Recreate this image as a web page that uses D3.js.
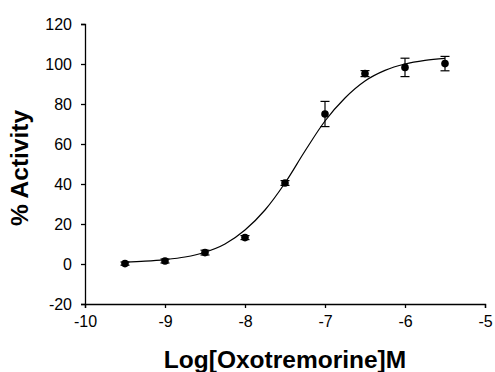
<!DOCTYPE html>
<html>
<head>
<meta charset="utf-8">
<script src="https://cdn.jsdelivr.net/npm/d3@7"></script>
<style>
  body { margin: 0; background: #fff; }
  text { font-family: "Liberation Sans", Arial, sans-serif; }
</style>
</head>
<body>
<div id="chart"></div>
<script>
'use strict';

// measured points (log concentration, mean % activity, error)
var logConc = [-9.5, -9, -8.5, -8, -7.5, -7, -6.5, -6, -5.5];
var activity = [0.2, 1.5, 5.7, 13.2, 40.5, 75, 95.2, 98.3, 100.2];
var errors = [0.8, 1.0, 1.2, 1.0, 1.2, 6.3, 1.5, 4.6, 3.6];

// fitted curve
var curveX = [-9.5, -9.25, -9, -8.75, -8.5, -8.25, -8, -7.75, -7.5, -7.25, -7, -6.75, -6.5, -6.25, -6, -5.75, -5.5];
var curveY = [0.9, 1.4, 2.2, 3.5, 5.9, 10.0, 17.0, 27.0, 40.5, 56.5, 71.5, 83.0, 91.5, 96.8, 100.0, 101.8, 102.8];

var xTicks = [-10, -9, -8, -7, -6, -5];
var yTicks = [-20, 0, 20, 40, 60, 80, 100, 120];

var el_width = 495, el_height = 372;
var margin = {top: 24, right: 10, bottom: 68, left: 85},
  width = 485 - margin.left,
  height = 304 - margin.top;

var svg = d3.select("#chart").append("svg")
  .attr("width", el_width)
  .attr("height", el_height)
  .append("g")
  .attr("transform", "translate(" + margin.left + "," + margin.top + ")");

var x = d3.scaleLinear().domain([-10, -5]).range([0, width]),
  y = d3.scaleLinear().domain([-20, 120]).range([height, 0]);

var xAxis = svg.append("g")
  .attr("transform", "translate(0," + height + ")")
  .call(d3.axisBottom(x).tickValues(xTicks).tickSizeOuter(0).tickSize(4).tickPadding(8).tickFormat(d3.format("d")));

var yAxis = svg.append("g")
  .call(d3.axisLeft(y).tickValues(yTicks).tickSizeOuter(0).tickSize(4).tickPadding(9).tickFormat(d3.format("d")));

[xAxis, yAxis].forEach(function(a){
  a.select(".domain").attr("stroke", "#000").attr("stroke-width", 1.3);
  a.selectAll(".tick line").attr("stroke", "#000").attr("stroke-width", 1.3);
  a.selectAll(".tick text")
    .style("font-family", "Liberation Sans, Arial, sans-serif")
    .style("font-size", "16px")
    .attr("fill", "#000")
    .text(function(d){ return d < 0 ? "-" + Math.abs(d) : d; });
});

var line = d3.line()
  .x((d, i) => x(curveX[i]))
  .y((d) => y(d))
  .curve(d3.curveMonotoneX);

svg.append("path")
  .attr("class", "line")
  .attr("d", line(curveY))
  .attr("fill", "none")
  .attr("stroke", "#000")
  .attr("stroke-width", 1.2);

var pts = svg.selectAll("g.pt")
  .data(logConc)
  .enter().append("g")
  .attr("class", "pt");

pts.append("line")
  .attr("x1", (d) => x(d)).attr("x2", (d) => x(d))
  .attr("y1", (d, i) => y(activity[i] + errors[i]))
  .attr("y2", (d, i) => y(activity[i] - errors[i]))
  .attr("stroke", "#000").attr("stroke-width", 1.2);

[1, -1].forEach(function(s){
  pts.append("line")
    .attr("x1", (d) => x(d) - 4.5).attr("x2", (d) => x(d) + 4.5)
    .attr("y1", (d, i) => y(activity[i] + s * errors[i]))
    .attr("y2", (d, i) => y(activity[i] + s * errors[i]))
    .attr("stroke", "#000").attr("stroke-width", 1.2);
});

pts.append("circle")
  .attr("cx", (d) => x(d))
  .attr("cy", (d, i) => y(activity[i]))
  .attr("r", 3.8)
  .attr("fill", "#000");

svg.append("text")
  .attr("x", width / 2)
  .attr("y", 368 - margin.top)
  .attr("text-anchor", "middle")
  .style("font-size", "24.5px")
  .style("font-weight", "bold")
  .text("Log[Oxotremorine]M");

svg.append("text")
  .attr("transform", "translate(" + (28 - margin.left) + "," + (168 - margin.top) + ") rotate(-90)")
  .attr("text-anchor", "middle")
  .style("font-size", "24.5px")
  .style("font-weight", "bold")
  .text("% Activity");
</script>
</body>
</html>
